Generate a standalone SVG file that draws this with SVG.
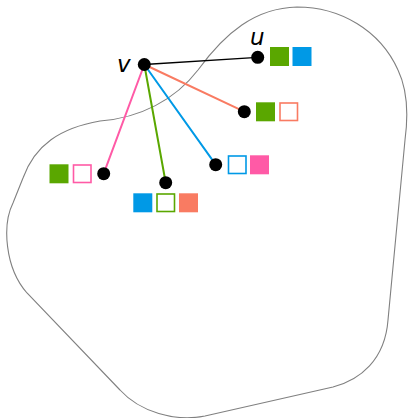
<svg xmlns="http://www.w3.org/2000/svg" width="408" height="418" viewBox="0 0 408 418">
<style>
.blob{fill:none;stroke:#808080;stroke-width:1.1}
.node{fill:#000}
.lbl{font-family:"DejaVu Sans",sans-serif;font-style:italic;font-size:23px;fill:#000}
.e{fill:none;stroke-width:2;stroke-linecap:round}
.f{stroke:none}
.o{fill:#fff;stroke-width:1.6}
.g{fill:#5aa700}.b{fill:#0099e6}.p{fill:#ff5aa6}.r{fill:#f97b62}
.og{stroke:#5aa700}.ob{stroke:#0099e6}.op{stroke:#ff5aa6}.or{stroke:#f97b62}
</style>
<path class="blob" d="M 100 121 C 140 118, 175 100, 198 70 C 225 33, 255 8, 297 7 C 340 7, 380 30, 398 70 C 410 95, 407 125, 405 140 L 388 320 C 385 360, 360 380, 333 387 L 205 416 C 175 422, 140 412, 120 390 L 27 293 C 5 268, 2 225, 13 203 L 23 178 C 35 145, 60 128, 100 121 Z"/>
<g id="connectors">
<line class="e" x1="144.3" y1="64.5" x2="257.7" y2="57.3" stroke="#000" style="stroke-width:1.3"/>
<line class="e" x1="144.3" y1="64.5" x2="244.3" y2="111.7" stroke="#f97b62"/>
<line class="e" x1="144.3" y1="64.5" x2="215.7" y2="164.7" stroke="#0099e6"/>
<line class="e" x1="144.3" y1="64.5" x2="165.7" y2="182.7" stroke="#5aa700"/>
<line class="e" x1="144.3" y1="64.5" x2="103.7" y2="173.7" stroke="#ff5aa6"/>
</g>
<g id="v">
<circle class="node" cx="144.3" cy="64.5" r="6.5"/>
<text class="lbl" x="117" y="72">v</text>
</g>
<g id="u">
<circle class="node" cx="257.7" cy="57.3" r="6.5"/>
<text class="lbl" x="250" y="45">u</text>
<rect class="g" x="270" y="47" width="19" height="19"/>
<rect class="b" x="292.5" y="47" width="19" height="19"/>
</g>
<g id="n2">
<circle class="node" cx="244.3" cy="111.7" r="6.5"/>
<rect class="g" x="256" y="102.3" width="19" height="19"/>
<rect class="o or" x="280" y="103" width="17.5" height="17.5"/>
</g>
<g id="n3">
<circle class="node" cx="215.7" cy="164.7" r="6.5"/>
<rect class="o ob" x="228.5" y="156" width="17.5" height="17.5"/>
<rect class="p" x="250" y="155.3" width="19" height="19"/>
</g>
<g id="n4">
<circle class="node" cx="165.7" cy="182.7" r="6.5"/>
<rect class="b" x="133.3" y="193.3" width="19" height="19"/>
<rect class="o og" x="157" y="194" width="17.5" height="17.5"/>
<rect class="r" x="179" y="193.3" width="19" height="19"/>
</g>
<g id="n5">
<circle class="node" cx="103.7" cy="173.7" r="6.5"/>
<rect class="g" x="49.5" y="164.3" width="19" height="19"/>
<rect class="o op" x="73.5" y="165" width="17.5" height="17.5"/>
</g>
</svg>
